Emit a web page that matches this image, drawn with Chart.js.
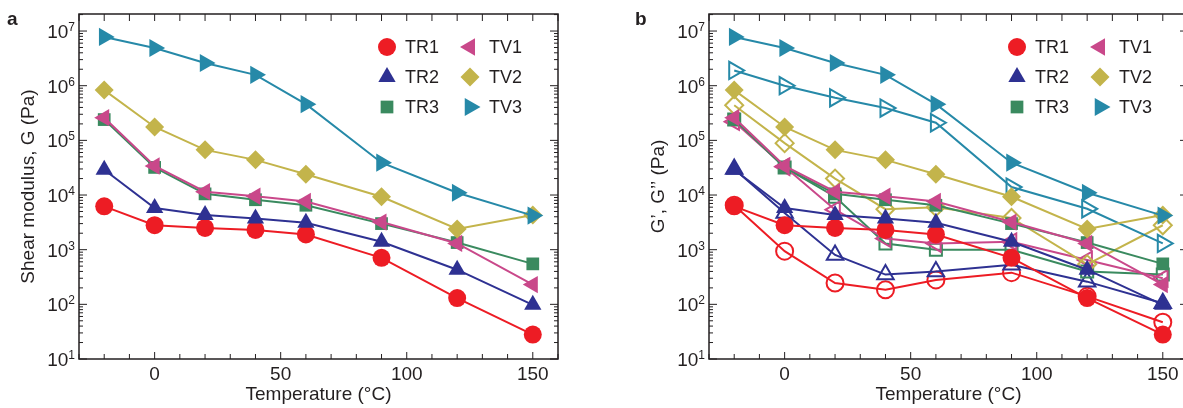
<!DOCTYPE html>
<html>
<head>
<meta charset="utf-8">
<script src="https://cdn.jsdelivr.net/npm/chart.js@4.4.1/dist/chart.umd.min.js"></script>
<style>
  html, body { margin: 0; padding: 0; background: #fff; overflow: hidden; }
  .panel { position: absolute; top: 0; width: 600px; height: 408px; }
  #panelA { left: 0; }
  #panelB { left: 600px; }
</style>
</head>
<body>
<div class="panel" id="panelA"><canvas id="chartA"></canvas></div>
<div class="panel" id="panelB"><canvas id="chartB"></canvas></div>
<script>
const temperatures = [-20, 0, 20, 40, 60, 90, 120, 150];
const seriesNames = ["TR1", "TR2", "TR3", "TV1", "TV2", "TV3"];

// shear modulus G (panel a), same as G' (filled, panel b)
const gTR1 = [6200, 2800, 2500, 2300, 1900, 710, 130, 28];
const gTR2 = [29000, 5800, 4300, 3700, 3100, 1400, 430, 98];
const gTR3 = [240000, 32000, 10500, 8200, 6500, 3000, 1350, 550];
const gTV1 = [260000, 34000, 11500, 9500, 7600, 3200, 1300, 230];
const gTV2 = [830000, 176000, 67000, 44000, 24000, 9300, 2400, 4300];
const gTV3 = [7800000, 4900000, 2600000, 1580000, 460000, 39000, 11000, 4200];

// G'' (open, panel b)
const g2TR1 = [6500, 940, 245, 185, 280, 380, 140, 47];
const g2TR2 = [30000, 4700, 800, 350, 400, 530, 260, 105];
const g2TR3 = [240000, 32000, 9300, 1300, 1000, 1000, 400, 350];
const g2TV1 = [220000, 33000, 5400, 1600, 1300, 1400, 650, 300];
const g2TV2 = [440000, 89000, 20000, 5500, 6000, 3800, 540, 2800];
const g2TV3 = [1900000, 1000000, 600000, 390000, 210000, 14000, 5600, 1300];

const yTickExponents = [1, 2, 3, 4, 5, 6, 7];
const xTickLabels = [0, 50, 100, 150];

const gValues = [gTR1, gTR2, gTR3, gTV1, gTV2, gTV3];
const g2Values = [g2TR1, g2TR2, g2TR3, g2TV1, g2TV2, g2TV3];

const colors = {
  TR1: "#ed1c24",
  TR2: "#2e3192",
  TR3: "#3a8a5f",
  TV1: "#c9488a",
  TV2: "#c3b44b",
  TV3: "#2689a8"
};
const markers = {
  TR1: { style: "circle", rotation: 0, radius: 9 },
  TR2: { style: "triangle", rotation: 0, radius: 10 },
  TR3: { style: "rect", rotation: 0, radius: 9 },
  TV1: { style: "triangle", rotation: -90, radius: 10 },
  TV2: { style: "rectRot", rotation: 0, radius: 9.5 },
  TV3: { style: "triangle", rotation: 90, radius: 10.5 }
};

const FONT = "'Liberation Sans', Arial, Helvetica, sans-serif";
const INK = "#231f20";

function points(values) {
  return temperatures.map((t, i) => ({ x: t, y: values[i] }));
}

function filledSet(name, values, i) {
  const m = markers[name];
  return {
    label: name,
    data: points(values),
    borderColor: colors[name],
    backgroundColor: colors[name],
    borderWidth: 2,
    pointStyle: m.style,
    pointRotation: m.rotation,
    pointRadius: m.radius,
    pointBorderWidth: 0,
    pointBackgroundColor: colors[name],
    order: 5 - i
  };
}

function openSet(name, values, i) {
  const m = markers[name];
  return {
    label: name + " G''",
    data: points(values),
    borderColor: colors[name],
    backgroundColor: "rgba(255,255,255,0)",
    borderWidth: 2,
    pointStyle: m.style,
    pointRotation: m.rotation,
    pointRadius: m.radius - 0.5,
    pointBorderWidth: 2,
    pointBorderColor: colors[name],
    pointBackgroundColor: "rgba(255,255,255,0)",
    order: 11 - i
  };
}

const framePlugin = {
  id: "frame",
  afterDraw(chart) {
    const o = chart.options.plugins.frame;
    const { ctx, chartArea: a, scales: { x, y } } = chart;
    ctx.save();
    ctx.strokeStyle = INK;
    ctx.fillStyle = INK;
    ctx.lineWidth = 1.5;
    ctx.strokeRect(a.left, a.top, a.right - a.left, a.bottom - a.top);

    // log ticks, inward on both sides
    ctx.lineWidth = 1;
    ctx.beginPath();
    for (let e = 1; e <= 7; e++) {
      for (let k = 1; k <= 9; k++) {
        const v = k * Math.pow(10, e);
        if (v > y.max) break;
        const py = y.getPixelForValue(v);
        const len = k === 1 ? 8 : 4;
        ctx.moveTo(a.left, py); ctx.lineTo(a.left + len, py);
        ctx.moveTo(a.right, py); ctx.lineTo(a.right - len, py);
      }
    }
    // x ticks every 10
    for (let t = -30; t <= 160; t += 10) {
      const px = x.getPixelForValue(t);
      const len = t % 50 === 0 ? 7 : 5;
      ctx.moveTo(px, a.bottom); ctx.lineTo(px, a.bottom - len);
      ctx.moveTo(px, a.top); ctx.lineTo(px, a.top + 7);
    }
    ctx.stroke();

    // y tick labels 10^n
    ctx.textAlign = "right";
    ctx.textBaseline = "alphabetic";
    yTickExponents.forEach(e => {
      const py = y.getPixelForValue(Math.pow(10, e));
      ctx.font = "12px " + FONT;
      const sup = String(e);
      const supW = ctx.measureText(sup).width;
      ctx.fillText(sup, a.left - 4, py);
      ctx.font = "19px " + FONT;
      ctx.fillText("10", a.left - 4 - supW, py + 7);
    });

    // x tick labels
    ctx.textAlign = "center";
    ctx.font = "19px " + FONT;
    xTickLabels.forEach(t => {
      ctx.fillText(String(t), x.getPixelForValue(t), a.bottom + 21);
    });

    // axis titles
    ctx.fillText("Temperature (°C)", (a.left + a.right) / 2, a.bottom + 41);
    ctx.save();
    ctx.translate(a.left - 45, (a.top + a.bottom) / 2);
    ctx.rotate(-Math.PI / 2);
    ctx.fillText(o.yTitle, 0, 0);
    ctx.restore();

    // panel letter
    ctx.textAlign = "left";
    ctx.font = "bold 19px " + FONT;
    ctx.fillText(o.letter, o.letterX, 25);

    // legend, two columns
    ctx.font = "18px " + FONT;
    ctx.textBaseline = "middle";
    seriesNames.forEach((name, i) => {
      const col = Math.floor(i / 3);
      const row = i % 3;
      const mx = a.left + (col === 0 ? 308 : 391);
      const tx = a.left + (col === 0 ? 326 : 410);
      const my = a.top + 33 + row * 30;
      const m = markers[name];
      ctx.fillStyle = colors[name];
      Chart.helpers.drawPoint(ctx, { pointStyle: m.style, rotation: m.rotation, radius: m.radius, borderWidth: 0 }, mx, my);
      ctx.fillStyle = INK;
      ctx.fillText(name, tx, my + 1);
    });
    ctx.restore();
  }
};

function makeChart(id, datasets, opts) {
  return new Chart(document.getElementById(id).getContext("2d"), {
    type: "line",
    data: { datasets: datasets },
    options: {
      responsive: true,
      maintainAspectRatio: false,
      animation: false,
      layout: { padding: { left: 0, right: opts.padRight, top: 14, bottom: 0 } },
      plugins: {
        legend: { display: false },
        tooltip: { enabled: false },
        frame: opts
      },
      scales: {
        x: {
          type: "linear", min: -30, max: 160,
          grid: { display: false }, border: { display: false },
          ticks: { display: false },
          afterFit: s => { s.height = 49; }
        },
        y: {
          type: "logarithmic", min: 10, max: 2.05e7,
          grid: { display: false }, border: { display: false },
          ticks: { display: false },
          afterFit: s => { s.width = opts.leftWidth; }
        }
      }
    },
    plugins: [framePlugin]
  });
}

makeChart("chartA",
  seriesNames.map((n, i) => filledSet(n, gValues[i], i)),
  { padRight: 42, leftWidth: 79, yTitle: "Shear modulus, G (Pa)", letter: "a", letterX: 7 });

makeChart("chartB",
  seriesNames.map((n, i) => filledSet(n, gValues[i], i))
    .concat(seriesNames.map((n, i) => openSet(n, g2Values[i], i))),
  { padRight: 12, leftWidth: 109, yTitle: "G’, G’’ (Pa)", letter: "b", letterX: 35 });
</script>
</body>
</html>
